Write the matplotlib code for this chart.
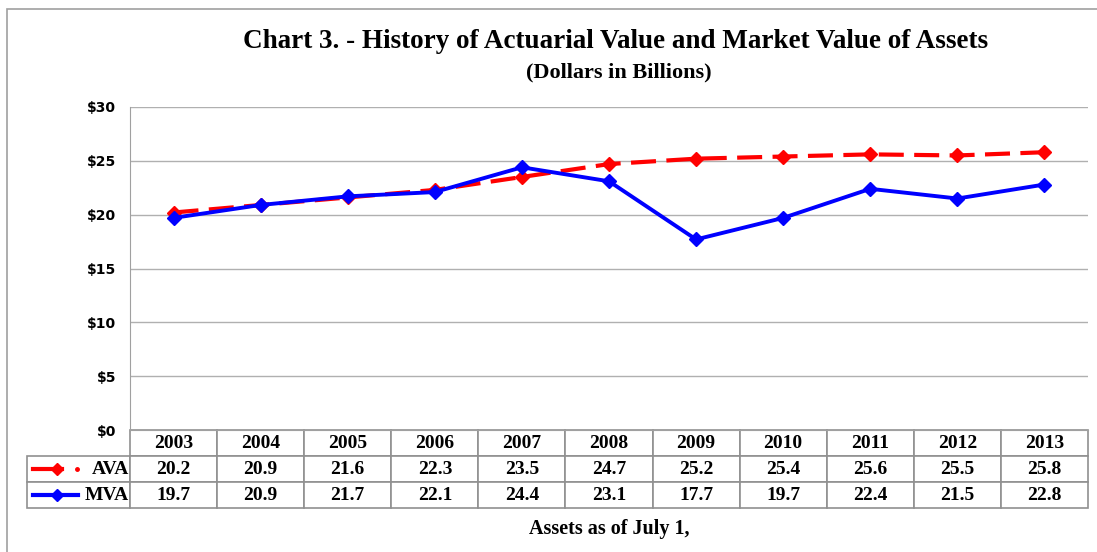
import matplotlib
matplotlib.use("Agg")
import matplotlib.pyplot as plt
from matplotlib.patches import Rectangle

years = ["2003", "2004", "2005", "2006", "2007", "2008", "2009", "2010", "2011", "2012", "2013"]
ava = [20.2, 20.9, 21.6, 22.3, 23.5, 24.7, 25.2, 25.4, 25.6, 25.5, 25.8]
mva = [19.7, 20.9, 21.7, 22.1, 24.4, 23.1, 17.7, 19.7, 22.4, 21.5, 22.8]
yticks = [0, 5, 10, 15, 20, 25, 30]

W, H = 1097, 552
fig = plt.figure(figsize=(W / 100, H / 100), dpi=100)

# outer chart border
fig.patches.append(Rectangle((7 / W, -0.1), 1.2, 1 - 9 / H + 0.1, transform=fig.transFigure,
                             fill=False, edgecolor="#a0a0a0", linewidth=1.2))

ax_l, ax_r, ax_t, ax_b = 130, 1088, 107, 430
ax = fig.add_axes([ax_l / W, 1 - ax_b / H, (ax_r - ax_l) / W, (ax_b - ax_t) / H])

x = list(range(len(years)))
ax.plot(x, ava, color="#ff0000", linewidth=3, dashes=(6, 2.5), marker="D", markersize=7.5,
        markeredgecolor="#ff0000", label="AVA", zorder=3)
ax.plot(x, mva, color="#0000ff", linewidth=2.8, marker="D", markersize=7.5,
        markeredgecolor="#0000ff", label="MVA", zorder=4)

ax.set_xlim(-0.5, len(years) - 0.5)
ax.set_ylim(0, 30)
ax.set_yticks(yticks)
ax.set_yticklabels([f"${v}" for v in yticks], fontsize=10, fontweight="bold",
                   family="DejaVu Sans")
ax.set_xticks([])
ax.grid(axis="y", color="#b0b0b0", linewidth=1)
for s in ["top", "right"]:
    ax.spines[s].set_visible(False)
ax.spines["left"].set_color("#a0a0a0")
ax.spines["bottom"].set_color("#a0a0a0")
ax.tick_params(axis="y", length=0, pad=10)

# data table below the axes
serif = "Liberation Serif"
cell_text = [years,
             [f"{v:.1f}" for v in ava],
             [f"{v:.1f}" for v in mva]]
rows = ["", "AVA", "MVA"]
full = [[rows[i]] + cell_text[i] for i in range(3)]
ax_w = ax_r - ax_l
leg_w = (ax_l - 27) / ax_w
col_w = 1.0 / len(years)
tbl_h = (508 - 430) / (ax_b - ax_t)
tbl = ax.table(cellText=full, cellLoc="center",
               colWidths=[leg_w] + [col_w] * len(years),
               bbox=[-leg_w, -tbl_h, 1 + leg_w, tbl_h])
tbl.auto_set_font_size(False)
for (r, c), cell in tbl.get_celld().items():
    cell.set_edgecolor("#909090")
    cell.set_linewidth(1.2)
    cell.get_text().set_fontsize(14)
    cell.get_text().set_fontweight("bold")
    cell.get_text().set_family(serif)
    if r == 0 and c == 0:
        cell.set_edgecolor("none")
    if c == 0 and r > 0:
        cell.get_text().set_ha("right")
        cell._loc = "right"
        cell.PAD = 0.01

# legend glyphs in the table's first column
def px(p):
    return (p - ax_l) / ax_w

row_h = tbl_h / 3
yc = -row_h * 1.5
ax.plot([px(33), px(62)], [yc, yc], transform=ax.transAxes, clip_on=False,
        color="#ff0000", linewidth=3)
ax.plot([px(57)], [yc], transform=ax.transAxes, clip_on=False,
        color="#ff0000", marker="D", markersize=6, linestyle="none")
ax.plot([px(77)], [yc], transform=ax.transAxes, clip_on=False,
        color="#ff0000", marker="o", markersize=2.5, linestyle="none")
yc = -row_h * 2.5
ax.plot([px(33), px(78)], [yc, yc], transform=ax.transAxes, clip_on=False,
        color="#0000ff", linewidth=3)
ax.plot([px(57)], [yc], transform=ax.transAxes, clip_on=False,
        color="#0000ff", marker="D", markersize=6, linestyle="none")

fig.text(616 / W, 1 - 42 / H, "Chart 3. - History of Actuarial Value and Market Value of Assets",
         ha="center", va="center", fontsize=19.5, fontweight="bold", family=serif)
fig.text(619 / W, 1 - 72 / H, "(Dollars in Billions)", ha="center", va="center",
         fontsize=16, fontweight="bold", family=serif)
fig.text(609 / W, 1 - 529 / H, "Assets as of July 1,", ha="center", va="center",
         fontsize=14.5, fontweight="bold", family=serif)

fig.savefig("out.png", dpi=100)
